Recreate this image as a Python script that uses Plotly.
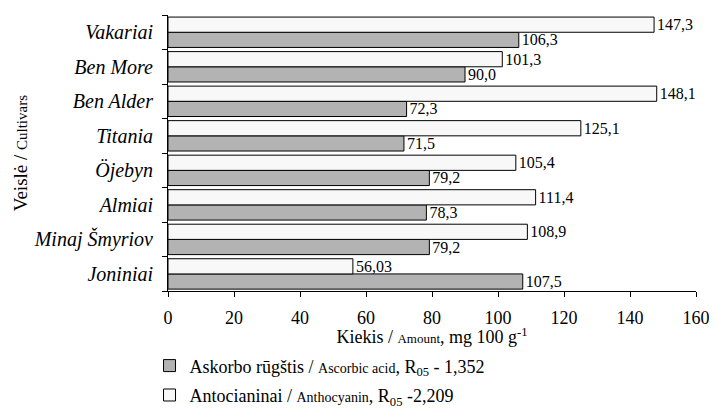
import plotly.graph_objects as go

cultivars = ["Joniniai", "Minaj Šmyriov", "Almiai", "Öjebyn", "Titania", "Ben Alder", "Ben More", "Vakariai"]
ascorbic = [107.5, 79.2, 78.3, 79.2, 71.5, 72.3, 90.0, 106.3]
ascorbic_labels = ["107,5", "79,2", "78,3", "79,2", "71,5", "72,3", "90,0", "106,3"]
anthocyanin = [56.03, 108.9, 111.4, 105.4, 125.1, 148.1, 101.3, 147.3]
anthocyanin_labels = ["56,03", "108,9", "111,4", "105,4", "125,1", "148,1", "101,3", "147,3"]
x_ticks = [0, 20, 40, 60, 80, 100, 120, 140, 160]

FONT = "Liberation Serif"

fig = go.Figure()
fig.add_trace(go.Bar(
    y=cultivars, x=ascorbic, orientation="h",
    name="Askorbo rūgštis / <span style='font-size:14px'>Ascorbic acid</span>, R<sub>05</sub> - 1,352",
    marker=dict(color="#b3b3b3", line=dict(color="#000000", width=1)),
    text=ascorbic_labels, textposition="outside", constraintext="none", cliponaxis=False,
    textfont=dict(family=FONT, size=16, color="#000"),
    legendgroup="a",
))
fig.add_trace(go.Bar(
    y=cultivars, x=anthocyanin, orientation="h",
    name="Antocianinai / <span style='font-size:14px'>Anthocyanin</span>, R<sub>05</sub> -2,209",
    marker=dict(color="#f8f8f8", line=dict(color="#000000", width=1)),
    text=anthocyanin_labels, textposition="outside", constraintext="none", cliponaxis=False,
    textfont=dict(family=FONT, size=16, color="#000"),
    legendgroup="b",
))

fig.update_layout(
    width=709, height=405,
    margin=dict(l=160, r=17, t=7, b=120),
    paper_bgcolor="white", plot_bgcolor="white",
    font=dict(family=FONT, size=18, color="#000"),
    barmode="group", bargap=0.12, bargroupgap=0,
    showlegend=True,
    legend=dict(
        orientation="v", x=-0.035, xanchor="left", xref="paper",
        y=0.162, yanchor="top", yref="container",
        traceorder="grouped", tracegroupgap=3, itemwidth=30,
        font=dict(family=FONT, size=18, color="#000"),
        bgcolor="rgba(0,0,0,0)",
    ),
    xaxis=dict(
        range=[0, 160], tickvals=x_ticks, ticktext=[str(v) for v in x_ticks],
        ticks="outside", ticklen=5, tickcolor="#000", showgrid=False, zeroline=False,
        showline=True, linecolor="#000", linewidth=1,
        tickfont=dict(family=FONT, size=18), ticklabelstandoff=5,
        title=dict(text="Kiekis / <span style='font-size:13px'>Amount</span>, mg 100 g<sup>-1</sup>",
                   font=dict(family=FONT, size=18), standoff=0),
    ),
    yaxis=dict(
        tickson="boundaries", ticks="outside", ticklen=5, tickcolor="#000",
        showline=True, linecolor="#000", linewidth=1, showgrid=False,
        tickfont=dict(family=FONT, size=20, style="italic"),
        ticklabelstandoff=10,
        title=dict(text="Veislė / <span style='font-size:15px'>Cultivars</span>",
                   font=dict(family=FONT, size=19), standoff=1),
    ),
)

fig.write_html("out.html")
